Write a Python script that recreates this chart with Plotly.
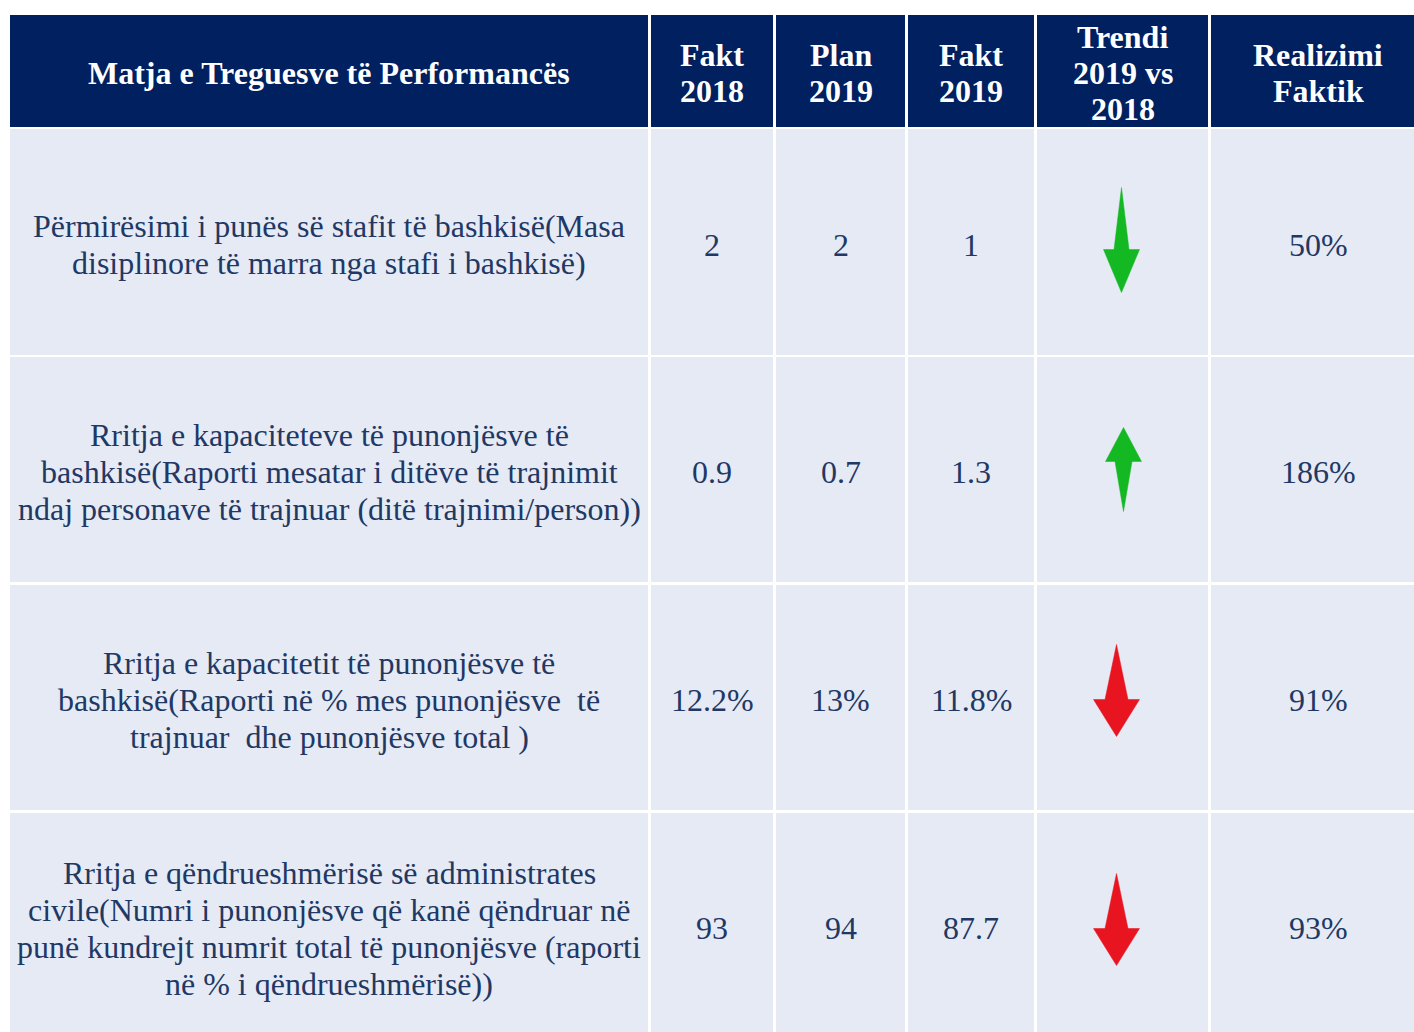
import plotly.graph_objects as go

# ---------------- data ----------------
header_labels = ["Matja e Treguesve të Performancës", "Fakt<br>2018", "Plan<br>2019",
                 "Fakt<br>2019", "Trendi<br>2019 vs<br>2018", "Realizimi<br>Faktik"]
indicators = [
    "Përmirësimi i punës së stafit të bashkisë(Masa<br>disiplinore të marra nga stafi i bashkisë)",
    "Rritja e kapaciteteve të punonjësve të<br>bashkisë(Raporti mesatar i ditëve të trajnimit<br>ndaj personave të trajnuar (ditë trajnimi/person))",
    "Rritja e kapacitetit të punonjësve të<br>bashkisë(Raporti në % mes punonjësve\u00a0 të<br>trajnuar\u00a0 dhe punonjësve total )",
    "Rritja e qëndrueshmërisë së administrates<br>civile(Numri i punonjësve që kanë qëndruar në<br>punë kundrejt numrit total të punonjësve (raporti<br>në % i qëndrueshmërisë))",
]
fakt_2018 = ["2", "0.9", "12.2%", "93"]
plan_2019 = ["2", "0.7", "13%", "94"]
fakt_2019 = ["1", "1.3", "11.8%", "87.7"]
trend_dir = ["down", "up", "down", "down"]
trend_good = [True, True, False, False]
realizimi = ["50%", "186%", "91%", "93%"]

# ---------------- layout constants (pixels) ----------------
W, H = 1414, 1032
col_edges = [(10, 648), (651, 773), (776, 905), (908, 1034), (1037, 1208), (1211, 1425)]
header_y = (15, 127)
row_edges = [(129, 355), (357, 582), (585, 810), (813, 1040)]
row_text_dy = [2.5, 2.5, 2.5, 1.5]
HEADER_BG = "#002060"
CELL_BG = "#e5eaf5"
TEXT_COL = "#1f3864"
FONT = "Liberation Serif"
FS = 32
BODY_LS = 37
HEAD_LS = 36
GREEN = "#14b823"
RED = "#e8141f"
# arrow geometry per row: (dx, dy, length, head_len, head_w, shaft_w)
arrow_geom = [(-1, -2, 105, 43, 36, 15), (1, 0, 84, 34, 36, 17),
              (-6, -7, 92, 37, 46, 23), (-6, -7, 92, 37, 46, 23)]

fig = go.Figure()
shapes = []
annotations = []


def rect(x0, x1, y0, y1, color):
    shapes.append(dict(type="rect", xref="x", yref="y", x0=x0, x1=x1, y0=y0, y1=y1,
                       fillcolor=color, line=dict(width=0), layer="below"))


def text_block(cx, cy, text, spacing, color, bold=False):
    lines = text.split("<br>")
    n = len(lines)
    for i, ln in enumerate(lines):
        t = f"<b>{ln}</b>" if bold else ln
        annotations.append(dict(x=cx, y=cy + (i - (n - 1) / 2) * spacing, xref="x", yref="y",
                                text=t, showarrow=False, align="center",
                                xanchor="center", yanchor="middle",
                                font=dict(family=FONT, size=FS, color=color)))


# header
for (x0, x1), lab in zip(col_edges, header_labels):
    rect(x0, x1, header_y[0], header_y[1], HEADER_BG)
    text_block((x0 + x1) / 2, (header_y[0] + header_y[1]) / 2 + 2, lab, HEAD_LS, "white", bold=True)

# body
value_cols = [fakt_2018, plan_2019, fakt_2019, None, realizimi]
for r, (y0, y1) in enumerate(row_edges):
    cy = (y0 + y1) / 2
    for (x0, x1) in col_edges:
        rect(x0, x1, y0, y1, CELL_BG)
    x0, x1 = col_edges[0]
    text_block((x0 + x1) / 2, cy + row_text_dy[r], indicators[r], BODY_LS, TEXT_COL)
    for ci, vals in enumerate(value_cols):
        if vals is None:
            continue
        x0, x1 = col_edges[ci + 1]
        text_block((x0 + x1) / 2, cy + row_text_dy[r], vals[r], BODY_LS, TEXT_COL)
    # trend arrow
    dx, dy, L, hl, hw, sw = arrow_geom[r]
    x0, x1 = col_edges[4]
    ax = (x0 + x1) / 2 + dx
    ay = cy + dy
    s = 1 if trend_dir[r] == "down" else -1
    tail = ay - s * L / 2
    tip = ay + s * L / 2
    base = tip - s * hl
    pts = [(ax, tail), (ax + sw / 2, base), (ax + hw / 2, base), (ax, tip),
           (ax - hw / 2, base), (ax - sw / 2, base)]
    path = "M " + " L ".join(f"{px},{py}" for px, py in pts) + " Z"
    color = GREEN if trend_good[r] else RED
    shapes.append(dict(type="path", xref="x", yref="y", path=path, fillcolor=color,
                       line=dict(width=0.5, color=color), layer="above"))

fig.update_layout(
    width=W, height=H, margin=dict(l=0, r=0, t=0, b=0),
    paper_bgcolor="white", plot_bgcolor="white",
    font=dict(family=FONT),
    xaxis=dict(range=[0, W], visible=False, fixedrange=True),
    yaxis=dict(range=[H, 0], visible=False, fixedrange=True),
    shapes=shapes, annotations=annotations, showlegend=False,
)
fig.write_html("out.html", config={"displayModeBar": False},
               post_script="document.body.style.margin='0';document.body.style.overflow='hidden';")
